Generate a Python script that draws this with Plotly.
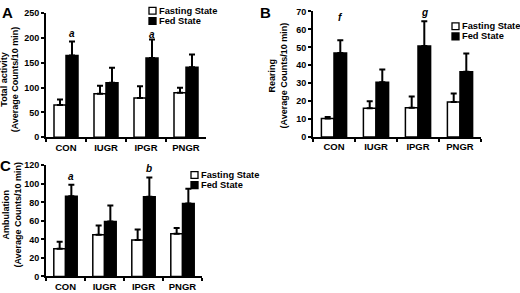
import plotly.graph_objects as go

W, H = 520, 293
groups = ["CON", "IUGR", "IPGR", "PNGR"]

# Panel A: Total activity
a_fast = [65, 88, 79, 90]
a_fast_err = [11, 16, 24, 10]
a_fed = [165, 110, 160, 141]
a_fed_err = [28, 30, 37, 26]
a_ticks = [0, 50, 100, 150, 200, 250]

# Panel B: Rearing
b_fast = [10.3, 16, 16.3, 19.5]
b_fast_err = [0.9, 4, 6.3, 4.8]
b_fed = [46.8, 30.5, 50.8, 36.4]
b_fed_err = [7.2, 7.1, 13.7, 10.2]
b_ticks = [0, 10, 20, 30, 40, 50, 60, 70]

# Panel C: Ambulation
c_fast = [29.8, 45, 39.2, 46.1]
c_fast_err = [7.7, 10, 11.4, 6.3]
c_fed = [86.7, 59.3, 86, 78.7]
c_fed_err = [12.2, 17.4, 20.8, 16]
c_ticks = [0, 20, 40, 60, 80, 100, 120]

# significance letters: (panel, group index, label, y value)
sig_letters = [
    ("A", 0, "a", 210), ("A", 2, "a", 208),
    ("B", 0, "f", 66.5), ("B", 2, "g", 69.5),
    ("C", 0, "a", 107.5), ("C", 2, "b", 117),
]

FONT = "Arial, Liberation Sans, sans-serif"

def px(x):
    return x / W

def py(y):
    return (H - y) / H

panels = {
    "A": dict(xa="x", ya="y", xdom=[px(46), px(206)], ydom=[py(137), py(8.5)],
              rng=[0, 250], ticks=a_ticks, fast=a_fast, fast_err=a_fast_err,
              fed=a_fed, fed_err=a_fed_err,
              title="Total activity<br>(Average Counts/10 min)", tx=10, ty=77,
              legx=149, legy=6, lab=(7, 8)),
    "B": dict(xa="x2", ya="y2", xdom=[px(313), px(481)], ydom=[py(136.7), py(6.7)],
              rng=[0, 70], ticks=b_ticks, fast=b_fast, fast_err=b_fast_err,
              fed=b_fed, fed_err=b_fed_err,
              title="Rearing<br>(Average Counts/10 min)", tx=278, ty=73,
              legx=452, legy=22, lab=(265, 8)),
    "C": dict(xa="x3", ya="y3", xdom=[px(46), px(202)], ydom=[py(281), py(166)],
              rng=[0, 120], ticks=c_ticks, fast=c_fast, fast_err=c_fast_err,
              fed=c_fed, fed_err=c_fed_err,
              title="Ambulation<br>(Average Counts/10 min)", tx=12, ty=217,
              legx=191, legy=176, lab=(5, 166)),
}

fig = go.Figure()
annotations = []
shapes = []
layout = {}

for key, p in panels.items():
    for name, vals, errs, color in [("Fasting State", p["fast"], p["fast_err"], "white"),
                                    ("Fed State", p["fed"], p["fed_err"], "black")]:
        fig.add_trace(go.Bar(
            x=groups, y=vals, name=name, xaxis=p["xa"], yaxis=p["ya"],
            marker=dict(color=color, line=dict(color="black", width=1.5)),
            error_y=dict(type="data", symmetric=False, array=errs,
                         arrayminus=[0] * len(errs), color="black",
                         thickness=2, width=3),
            showlegend=False,
        ))
    xname = "xaxis" if p["xa"] == "x" else "xaxis" + p["xa"][1:]
    yname = "yaxis" if p["ya"] == "y" else "yaxis" + p["ya"][1:]
    layout[xname] = dict(
        domain=p["xdom"], anchor=p["ya"], type="category",
        range=[-0.5, 3.5], showline=True, linecolor="black", linewidth=2,
        ticks="outside", tickson="boundaries", ticklen=3, tickwidth=2,
        tickcolor="black", showgrid=False, zeroline=False, tickangle=0,
        tickfont=dict(family=FONT, size=9.5, color="black", weight="bold"),
    )
    layout[yname] = dict(
        domain=p["ydom"], anchor=p["xa"], range=p["rng"], tickvals=p["ticks"],
        showline=True, linecolor="black", linewidth=2,
        ticks="outside", ticklen=3, tickwidth=2, tickcolor="black",
        showgrid=False, zeroline=False,
        tickfont=dict(family=FONT, size=9, color="black", weight="bold"),
    )
    # axis title
    annotations.append(dict(
        text="<b>" + p["title"].replace("<br>", "</b><br><b>") + "</b>",
        xref="paper", yref="paper", x=px(p["tx"]), y=py(p["ty"]),
        xanchor="center", yanchor="middle", textangle=-90, showarrow=False,
        font=dict(family=FONT, size=9, color="black"),
    ))
    # panel letter
    annotations.append(dict(
        text="<b>" + key + "</b>", xref="paper", yref="paper",
        x=px(p["lab"][0]), y=py(p["lab"][1]), xanchor="center", yanchor="middle",
        showarrow=False, font=dict(family=FONT, size=15, color="black"),
    ))
    # legend
    for i, (lname, fill) in enumerate([("Fasting State", "white"), ("Fed State", "black")]):
        cy = p["legy"] + i * 10.5
        shapes.append(dict(type="rect", xref="paper", yref="paper",
                           x0=px(p["legx"]), x1=px(p["legx"] + 7),
                           y0=py(cy + 3.5), y1=py(cy - 3.5),
                           fillcolor=fill, line=dict(color="black", width=1.3)))
        annotations.append(dict(
            text="<b>" + lname + "</b>", xref="paper", yref="paper",
            x=px(p["legx"] + 8), y=py(cy), xanchor="left", yanchor="middle",
            showarrow=False, font=dict(family=FONT, size=9.3, color="black"),
        ))

for key, gi, lab, yv in sig_letters:
    p = panels[key]
    annotations.append(dict(
        text="<b><i>" + lab + "</i></b>", xref=p["xa"], yref=p["ya"],
        x=gi + 0.15, y=yv, xanchor="center", yanchor="middle", showarrow=False,
        font=dict(family=FONT, size=10, color="black"),
    ))

fig.update_layout(
    width=W, height=H, margin=dict(l=0, r=0, t=0, b=0),
    paper_bgcolor="white", plot_bgcolor="white",
    barmode="group", bargap=0.4, bargroupgap=0,
    annotations=annotations, shapes=shapes, **layout,
)

fig.write_html("out.html", config={"displayModeBar": False},
               post_script="document.body.style.margin='0';document.body.style.overflow='hidden';")
